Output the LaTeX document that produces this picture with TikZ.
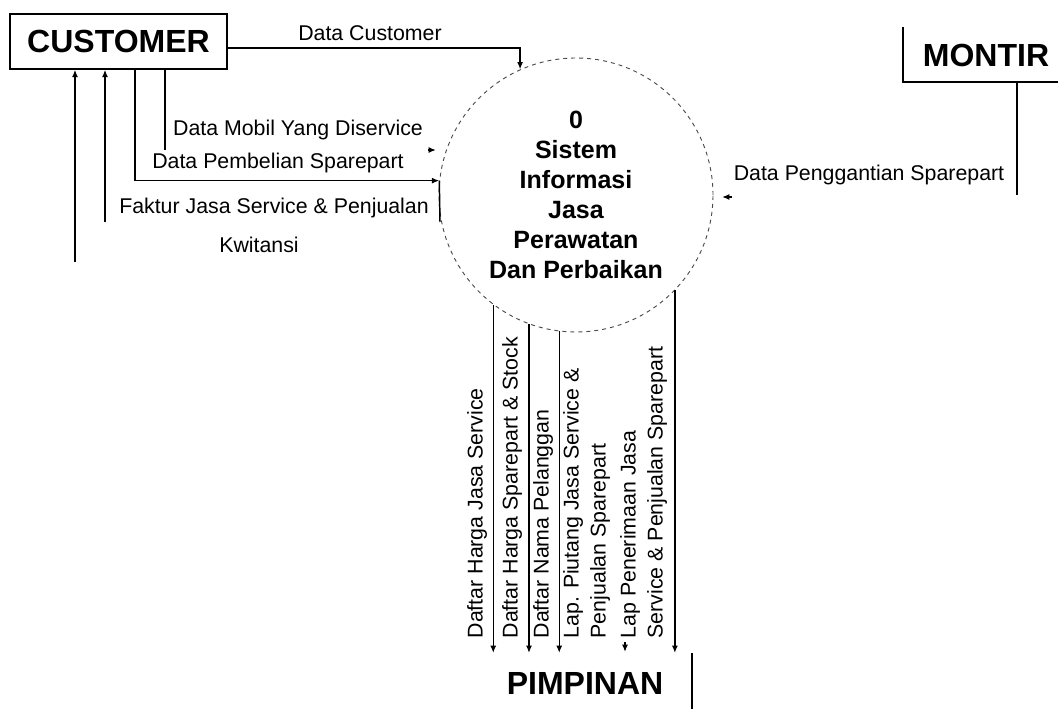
\documentclass[tikz,border=0pt]{standalone}
\usepackage{fontspec}
\setmainfont{Liberation Sans}
\usetikzlibrary{arrows.meta}
\begin{document}
\begin{tikzpicture}[x=0.75pt,y=-0.75pt,
  conn/.style={line width=1.1pt,draw=black},
  arr/.style={conn,-{Latex[length=5.5pt,width=4.5pt]}},
  ent/.style={font=\fontsize{24}{28}\selectfont\bfseries, inner sep=0pt},
  lbl/.style={font=\fontsize{16}{20.25}\selectfont, inner sep=1pt},
  proc/.style={circle, draw=black!70, dashed, line width=0.7pt, minimum size=205.5pt, inner sep=0pt, align=center, font=\fontsize{18.75}{22.5}\selectfont\bfseries}]
\useasboundingbox (0,0) rectangle (1058,709);

% entities and process
\node[ent, draw, line width=1.1pt, minimum width=162.75pt, minimum height=41.25pt] (cust) at (118.5,41.5) {CUSTOMER};
\node[proc] (proc) at (576,195) {0\\Sistem\\Informasi\\Jasa\\Perawatan\\Dan Perbaikan};
\node[ent] (montir) at (986,55) {MONTIR};
\node[ent] (pimp) at (585,683) {PIMPINAN};

% helper coordinates
\coordinate (dcy) at (0,48);
\coordinate (x165) at (165,150);
\coordinate (m1) at (428,150);
\coordinate (m2) at (436,150);
\coordinate (x135) at (135,0);
\coordinate (f1) at (440,222);
\coordinate (f2) at (105,222);
\coordinate (k1) at (75,262);
\coordinate (mt1) at (903,27);
\coordinate (mt2) at (1058,82);
\coordinate (mt3) at (1017,195);
\coordinate (mp1) at (732,197);
\coordinate (mp2) at (722,197);
\coordinate (pv1) at (692,653);
\coordinate (pv2) at (692,709);
\coordinate (bot) at (0,653);
\coordinate (p5a) at (625,642);
\coordinate (p5b) at (625,652);

% customer flows
\draw[arr] (cust.east |- dcy) -| (proc.114);
\draw[conn] (cust.south -| x165) -- (x165);
\draw[arr] (m1) -- (m2);
\draw[arr] (cust.south -| x135) |- (proc.174);
\draw[conn] (proc.174) -- (f1);
\draw[arr] (f2) -- (cust.south -| f2);
\draw[arr] (k1) -- (cust.south -| k1);

% montir
\draw[conn] (mt1) |- (mt2);
\draw[conn] (mt3 |- mt2) -- (mt3);
\draw[arr] (mp1) -- (mp2);

% pimpinan
\draw[conn] (pv1) -- (pv2);
\draw[arr] (proc.233) -- (proc.233 |- bot);
\draw[arr] (proc.250) -- (proc.250 |- bot);
\draw[arr] (proc.263) -- (proc.263 |- bot);
\draw[arr] (p5a) -- (p5b);
\draw[arr] (proc.316) -- (proc.316 |- bot);

% labels
\node[lbl] (lDC) at (370,33) {Data Customer};
\node[lbl] (lDM) at (298,130) {Data Mobil Yang Diservice};
\node[lbl] (lDP) at (278,163) {Data Pembelian Sparepart};
\node[lbl] (lFJ) at (274,208) {Faktur Jasa Service \& Penjualan};
\node[lbl] (lKW) at (259,245) {Kwitansi};
\node[lbl] (lPG) at (869,175) {Data Penggantian Sparepart};

\node[lbl,rotate=90,anchor=west] (v1) at (477,640) {Daftar Harga Jasa Service};
\node[lbl,rotate=90,anchor=west] (v2) at (512,640) {Daftar Harga Sparepart \& Stock};
\node[lbl,rotate=90,anchor=west] (v3) at (543,640) {Daftar Nama Pelanggan};
\node[lbl,rotate=90,anchor=west,align=left] (v4) at (586.5,640) {Lap. Piutang Jasa Service \&\\Penjualan Sparepart};
\node[lbl,rotate=90,anchor=west,align=left] (v5) at (643.5,640) {Lap Penerimaan Jasa\\Service \& Penjualan Sparepart};
\end{tikzpicture}
\end{document}
